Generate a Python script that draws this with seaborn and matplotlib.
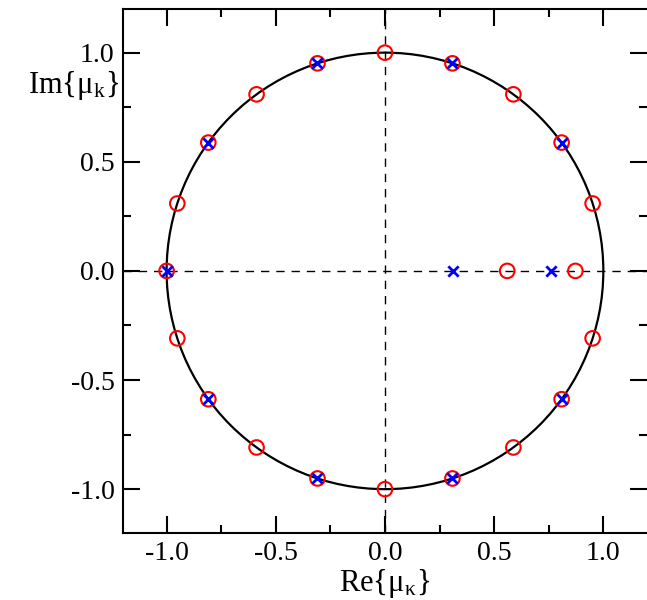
import seaborn as sns
import matplotlib.pyplot as plt
import pandas as pd
from matplotlib.ticker import MultipleLocator

# zeros (red circles) and poles (blue crosses) in the complex plane
zeros_re = [0.0, 0.309, 0.588, 0.809, 0.951, 0.951, 0.809, 0.588, 0.309, 0.0,
            -0.309, -0.588, -0.809, -0.951, -1.0, -0.951, -0.809, -0.588, -0.309,
            0.56, 0.872]
zeros_im = [1.0, 0.951, 0.809, 0.588, 0.309, -0.309, -0.588, -0.809, -0.951, -1.0,
            -0.951, -0.809, -0.588, -0.309, 0.0, 0.309, 0.588, 0.809, 0.951,
            0.0, 0.0]
poles_re = [0.309, 0.809, 0.809, 0.309, -0.309, -0.809, -1.0, -0.809, -0.309,
            0.312, 0.761]
poles_im = [0.951, 0.588, -0.588, -0.951, -0.951, -0.588, 0.0, 0.588, 0.951,
            0.0, 0.0]

zeros = pd.DataFrame({"re": zeros_re, "im": zeros_im})
poles = pd.DataFrame({"re": poles_re, "im": poles_im})

sns.set_style("ticks", {"axes.edgecolor": "black", "text.color": "black",
                        "axes.labelcolor": "black", "xtick.color": "black",
                        "ytick.color": "black"})
plt.rcParams['font.family'] = ['Liberation Serif', 'DejaVu Serif']
plt.rcParams['mathtext.fontset'] = 'stix'

fig = plt.figure(figsize=(6.47, 6.0), dpi=100)
ax = fig.add_axes([0.190, 0.112, 0.81, 0.873])

ax.axhline(0, color="black", lw=1, ls=(0, (6, 5)), zorder=1)
ax.axvline(0, color="black", lw=1, ls=(0, (6, 5)), zorder=1)
ax.add_patch(plt.Circle((0, 0), 1.0, fill=False, color="black", lw=1.6, zorder=2))

sns.scatterplot(data=zeros, x="re", y="im", marker="o", s=110,
                facecolors="none", edgecolor="red", linewidth=1.5, ax=ax, zorder=3)
sns.scatterplot(data=poles, x="re", y="im", marker="x", s=55,
                color="blue", linewidth=2, ax=ax, zorder=4)

ax.set_xlim(-1.2, 1.2)
ax.set_ylim(-1.2, 1.2)
ax.xaxis.set_major_locator(MultipleLocator(0.5))
ax.xaxis.set_minor_locator(MultipleLocator(0.25))
ax.yaxis.set_major_locator(MultipleLocator(0.5))
ax.yaxis.set_minor_locator(MultipleLocator(0.25))
ax.xaxis.set_major_formatter(lambda v, p: f"{v:.1f}")
ax.yaxis.set_major_formatter(lambda v, p: f"{v:.1f}")
ax.tick_params(which="both", direction="in", top=True, right=True,
               width=1.5, labelsize=20, pad=6, colors="black")
ax.tick_params(which="major", length=12)
ax.tick_params(which="minor", length=6)
for s in ax.spines.values():
    s.set_linewidth(1.5)
    s.set_color("black")
# right frame edge falls outside the picture in the original
ax.spines["right"].set_visible(False)

ax.set_xlabel("Re{μ$_{\\mathregular{κ}}$}", fontsize=22, labelpad=0, color="black")
ax.set_ylabel("")
fig.text(0.185, 0.858, "Im{μ$_{\\mathregular{k}}$}", fontsize=22,
         ha="right", va="center", color="black")

fig.savefig("out.png", dpi=100)
